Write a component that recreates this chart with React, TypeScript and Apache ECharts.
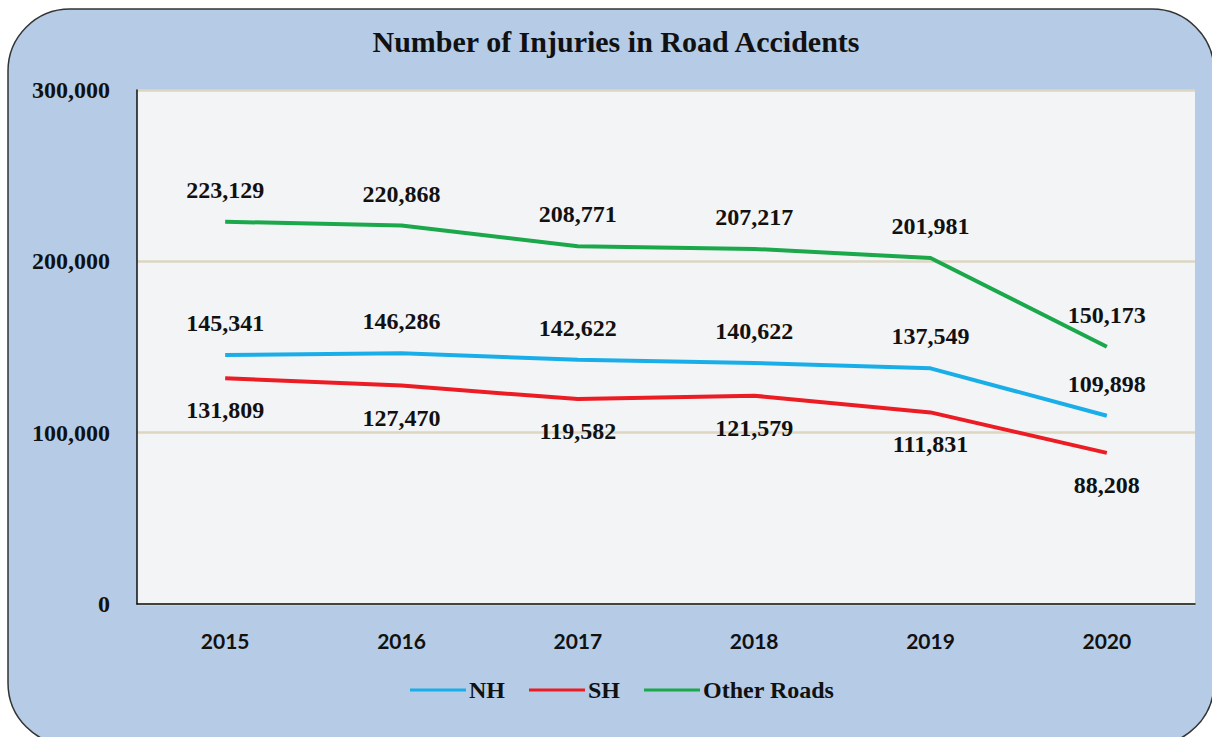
import React, { useEffect, useRef } from "react";
import * as echarts from "echarts";

const years = ["2015", "2016", "2017", "2018", "2019", "2020"];
const nh = [145341, 146286, 142622, 140622, 137549, 109898];
const sh = [131809, 127470, 119582, 121579, 111831, 88208];
const other = [223129, 220868, 208771, 207217, 201981, 150173];

const serif = "'Liberation Serif', 'Times New Roman', serif";
const sans = "Lato, 'Open Sans', sans-serif";

export default function App() {
  const ref = useRef<HTMLDivElement>(null);
  useEffect(() => {
    const chart = echarts.init(ref.current!, null, { renderer: "svg" });
    const fmt = (v: number) => v.toLocaleString("en-US");
    const labelStyle = (pos: string) => ({
      show: true,
      position: pos,
      distance: 20,
      fontFamily: serif,
      fontWeight: "bold",
      fontSize: 24,
      color: "#111",
      formatter: (p: any) => fmt(p.value),
    });
    const mk = (name: string, data: number[], color: string, pos: string) => ({
      name,
      type: "line",
      data,
      symbol: "circle",
      symbolSize: 0.1,
      showSymbol: true,
      lineStyle: { color, width: 4 },
      itemStyle: { color },
      label: labelStyle(pos),
    });
    chart.setOption({
      animation: false,
      backgroundColor: "#ffffff",
      graphic: [
        {
          type: "rect",
          z: -10,
          silent: true,
          shape: { x: 8, y: 9, width: 1206, height: 736, r: 62 },
          style: { fill: "#b5cbe6", stroke: "#333", lineWidth: 1.5 },
        },
      ],
      title: {
        text: "Number of Injuries in Road Accidents",
        left: 611,
        textAlign: "center",
        top: 21,
        textStyle: { fontFamily: serif, fontWeight: "bold", fontSize: 30, color: "#111" },
      },
      legend: {
        top: 673,
        left: 405,
        itemWidth: 56,
        itemHeight: 14,
        itemGap: 24,
        icon: "path://M0,6 L56,6 L56,9 L0,9 Z",
        textStyle: { fontFamily: serif, fontWeight: "bold", fontSize: 24, color: "#111", padding: [0, 0, 0, -2] },
        data: ["NH", "SH", "Other Roads"],
      },
      grid: {
        left: 137,
        right: 17,
        top: 90,
        bottom: 133,
        show: true,
        backgroundColor: "#f3f4f6",
        borderWidth: 0,
      },
      xAxis: {
        type: "category",
        data: years,
        boundaryGap: true,
        axisLine: { show: true, lineStyle: { color: "#111", width: 1.5 } },
        axisTick: { show: false },
        axisLabel: { margin: 26, fontFamily: sans, fontWeight: "bold", fontSize: 21, color: "#111" },
      },
      yAxis: {
        type: "value",
        min: 0,
        max: 300000,
        interval: 100000,
        axisLine: { show: true, lineStyle: { color: "#111", width: 1.5 } },
        axisTick: { show: false },
        splitLine: { show: true, lineStyle: { color: "#ddd7c2", width: 2.5 } },
        axisLabel: {
          margin: 27,
          fontFamily: serif,
          fontWeight: "bold",
          fontSize: 24,
          color: "#111",
          formatter: (v: number) => fmt(v),
        },
      },
      series: [
        mk("NH", nh, "#1aaee8", "top"),
        mk("SH", sh, "#ec1c24", "bottom"),
        mk("Other Roads", other, "#1aa84a", "top"),
      ],
    });
    return () => chart.dispose();
  }, []);
  return (
    <div
      ref={ref}
      style={{ position: "fixed", left: 0, top: 0, width: 1212, height: 737 }}
    />
  );
}
